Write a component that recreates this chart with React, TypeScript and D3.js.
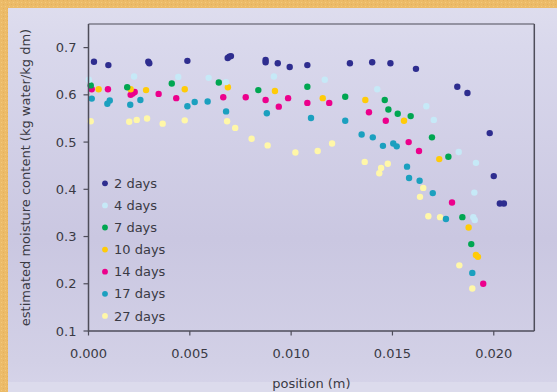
import React from "react";
import * as d3 from "d3";

const seriesNames = ["2 days", "4 days", "7 days", "10 days", "14 days", "17 days", "27 days"];
const seriesColors = ["#2E2D8F", "#C6E9F7", "#00A651", "#FFCB08", "#EC008C", "#1BA0BF", "#FFF7A8"];

const days2: [number, number][] = [
  [0.00027, 0.670], [0.00098, 0.663], [0.00295, 0.670], [0.0030, 0.667], [0.00488, 0.672],
  [0.00687, 0.678], [0.00695, 0.681], [0.00703, 0.682], [0.00874, 0.674], [0.00874, 0.669],
  [0.00934, 0.667], [0.00993, 0.659], [0.0108, 0.663], [0.0129, 0.667], [0.0140, 0.669],
  [0.0149, 0.667], [0.01616, 0.655], [0.0182, 0.617], [0.0187, 0.604], [0.0198, 0.519],
  [0.0200, 0.428], [0.0203, 0.370], [0.0205, 0.370],
];
const days4: [number, number][] = [
  [0.00002, 0.632], [0.00225, 0.639], [0.00443, 0.638], [0.00593, 0.636], [0.00679, 0.627],
  [0.00915, 0.639], [0.01166, 0.632], [0.01425, 0.612], [0.01667, 0.576], [0.01704, 0.547],
  [0.01827, 0.479], [0.01912, 0.456], [0.01904, 0.393], [0.01899, 0.341], [0.01906, 0.335],
];
const days7: [number, number][] = [
  [0.00011, 0.620], [0.00191, 0.616], [0.00411, 0.624], [0.00643, 0.626], [0.00838, 0.610],
  [0.0108, 0.617], [0.01267, 0.596], [0.01462, 0.589], [0.0148, 0.569], [0.01526, 0.560],
  [0.0159, 0.555], [0.01695, 0.510], [0.01776, 0.469], [0.01845, 0.341], [0.01889, 0.284],
];
const days10: [number, number][] = [
  [0.0005, 0.612], [0.00208, 0.612], [0.00284, 0.610], [0.00475, 0.612], [0.00688, 0.616],
  [0.0092, 0.608], [0.01156, 0.593], [0.01366, 0.589], [0.01557, 0.545], [0.01731, 0.464],
  [0.01876, 0.319], [0.01912, 0.261], [0.01922, 0.257],
];
const days14: [number, number][] = [
  [0.00016, 0.612], [0.00096, 0.612], [0.00208, 0.600], [0.00218, 0.603], [0.00228, 0.606],
  [0.00346, 0.602], [0.00433, 0.593], [0.00665, 0.595], [0.00776, 0.595], [0.00874, 0.589],
  [0.00939, 0.575], [0.00985, 0.593], [0.0108, 0.583], [0.01188, 0.583], [0.01384, 0.563],
  [0.01467, 0.545], [0.0158, 0.500], [0.01631, 0.481], [0.01794, 0.372], [0.01948, 0.200],
];
const days17: [number, number][] = [
  [0.00016, 0.592], [0.00093, 0.581], [0.00105, 0.588], [0.00206, 0.579], [0.00256, 0.589],
  [0.00488, 0.576], [0.00524, 0.585], [0.00588, 0.586], [0.00679, 0.565], [0.0088, 0.561],
  [0.01098, 0.551], [0.01267, 0.545], [0.01348, 0.516], [0.01403, 0.510], [0.01453, 0.492],
  [0.01504, 0.497], [0.01521, 0.491], [0.01572, 0.448], [0.01582, 0.424], [0.01634, 0.418],
  [0.01699, 0.392], [0.01764, 0.337], [0.01894, 0.223],
];
const days27: [number, number][] = [
  [0.00011, 0.544], [0.00201, 0.543], [0.00238, 0.547], [0.00289, 0.550], [0.00366, 0.539],
  [0.00475, 0.546], [0.00684, 0.544], [0.00724, 0.530], [0.00805, 0.507], [0.00884, 0.493],
  [0.01021, 0.478], [0.01131, 0.481], [0.01202, 0.497], [0.01363, 0.458], [0.01444, 0.445],
  [0.01435, 0.434], [0.01477, 0.454], [0.01652, 0.403], [0.01636, 0.384], [0.01677, 0.343],
  [0.01735, 0.341], [0.0183, 0.239], [0.01894, 0.190],
];
const allSeries = [days2, days4, days7, days10, days14, days17, days27];

const xTicks = [0, 0.005, 0.01, 0.015, 0.02];
const yTicks = [0.1, 0.2, 0.3, 0.4, 0.5, 0.6, 0.7];
const xLabel = "position (m)";
const yLabel = "estimated moisture content (kg water/kg dm)";

const W = 557, H = 392;
const L = 88.5, R = 534.3, T = 24, B = 331;
const FONT = "'DejaVu Sans', Verdana, sans-serif";

export default function App() {
  const x = d3.scaleLinear().domain([0, 0.022]).range([L, R]);
  const y = d3.scaleLinear().domain([0.1, 0.75]).range([B, T]);
  // draw order: later series drawn first so 2 days on top? keep reverse order
  const order = [6, 5, 4, 3, 2, 1, 0];
  return (
    <svg width={W} height={H} style={{ position: "absolute", left: 0, top: 0, display: "block" }}>
      <defs>
        <linearGradient id="panel" x1="0" y1="0" x2="0" y2="1">
          <stop offset="0" stopColor="#DEDDEE" />
          <stop offset="0.1" stopColor="#D9D8EC" />
          <stop offset="0.6" stopColor="#CAC7E1" />
          <stop offset="0.92" stopColor="#D2D0E6" />
          <stop offset="1" stopColor="#D6D4E9" />
        </linearGradient>
        <pattern id="tex" width="4" height="4" patternUnits="userSpaceOnUse">
          <rect width="4" height="4" fill="#ECBB68" />
          <rect width="1" height="1" x="1" y="2" fill="#F3C97E" />
          <rect width="1" height="1" x="3" y="0" fill="#E3B05C" />
        </pattern>
      </defs>
      <rect x={0} y={0} width={W} height={H} fill="url(#tex)" />
      <rect x={8} y={8} width={W - 8} height={H - 8} fill="url(#panel)" />
      <rect x={8} y={382} width={W - 8} height={10} fill="#DCDBEC" />

      {/* frame top/right */}
      <line x1={L} y1={T} x2={R} y2={T} stroke="#7C7B88" strokeWidth={1.5} />
      <line x1={R} y1={T} x2={R} y2={B} stroke="#4E4D5A" strokeWidth={1.5} />

      {/* points */}
      {order.map((si) =>
        allSeries[si].map((d, i) => (
          <circle key={si + "-" + i} cx={x(d[0])} cy={y(d[1])} r={3.2} fill={seriesColors[si]} />
        ))
      )}

      {/* axes */}
      <line x1={L} y1={T} x2={L} y2={B + 0.75} stroke="#4E4D5A" strokeWidth={1.5} />
      <line x1={L} y1={B} x2={R} y2={B} stroke="#4E4D5A" strokeWidth={1.5} />
      {yTicks.map((t) => (
        <g key={"y" + t}>
          <line x1={L - 5} x2={L} y1={y(t)} y2={y(t)} stroke="#4E4D5A" strokeWidth={1.2} />
          <text x={L - 12} y={y(t) + 4.6} textAnchor="end" fontFamily={FONT} fontSize={13} fill="#3A3A44">
            {d3.format(".1f")(t)}
          </text>
        </g>
      ))}
      {xTicks.map((t) => (
        <g key={"x" + t}>
          <line x1={x(t)} x2={x(t)} y1={B} y2={B + 4.5} stroke="#4E4D5A" strokeWidth={1.2} />
          <text x={x(t)} y={B + 27} textAnchor="middle" fontFamily={FONT} fontSize={13} fill="#3A3A44">
            {d3.format(".3f")(t)}
          </text>
        </g>
      ))}
      <text x={(L + R) / 2} y={388} textAnchor="middle" fontFamily={FONT} fontSize={13} fill="#3A3A44">
        {xLabel}
      </text>
      <text
        transform={`translate(29.5, ${(T + B) / 2}) rotate(-90)`}
        textAnchor="middle"
        fontFamily={FONT}
        fontSize={13}
        fill="#3A3A44"
      >
        {yLabel}
      </text>

      {/* legend */}
      {seriesNames.map((n, i) => (
        <g key={n} transform={`translate(105, ${183.3 + i * 22.1})`}>
          <circle cx={0} cy={0} r={2.9} fill={seriesColors[i]} />
          <text x={9} y={4.6} fontFamily={FONT} fontSize={13} fill="#3A3A44">
            {n}
          </text>
        </g>
      ))}
    </svg>
  );
}
